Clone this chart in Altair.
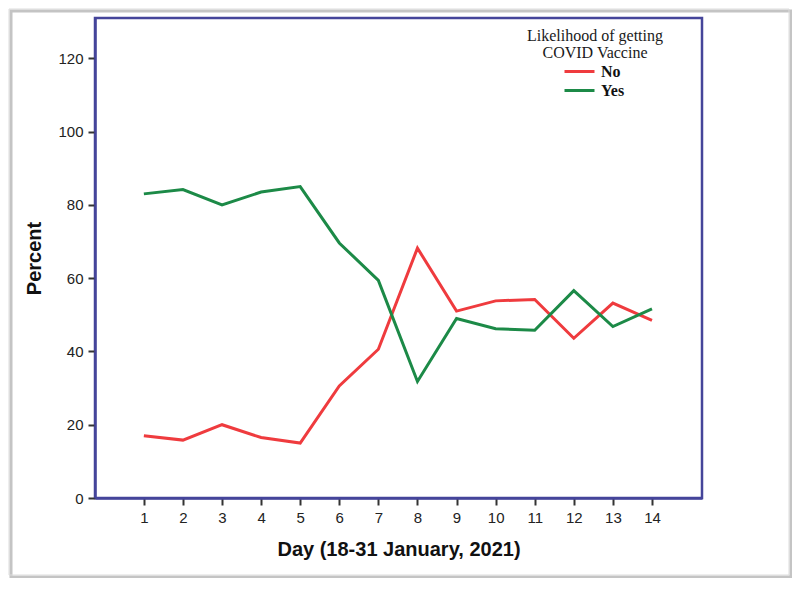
import altair as alt
import pandas as pd

days = list(range(1, 15))
no_vals = [17.0, 15.8, 20.0, 16.5, 15.0, 30.6, 40.6, 68.2, 51.0, 53.8, 54.2, 43.6, 53.2, 48.5]
yes_vals = [83.0, 84.2, 80.0, 83.5, 85.0, 69.6, 59.4, 31.8, 49.0, 46.2, 45.8, 56.6, 46.8, 51.6]
series = ["No", "Yes"]
colors = ["#ef3b3e", "#1c8a47"]
legend_title = ["Likelihood of getting", "COVID Vaccine"]
y_ticks = [0, 20, 40, 60, 80, 100, 120]

rows = []
for d, n, y in zip(days, no_vals, yes_vals):
    rows.append({"Day": d, "Percent": n, "Answer": "No"})
    rows.append({"Day": d, "Percent": y, "Answer": "Yes"})
df = pd.DataFrame(rows)
one = pd.DataFrame({"a": [0]})

NAVY = "#45459a"

shadow = alt.Chart(one).mark_rect(fill=None, stroke="#c4c4c4", strokeWidth=3).encode(
    x=alt.value(-84), x2=alt.value(696), y=alt.value(-7), y2=alt.value(559)
)
box = alt.Chart(one).mark_rect(fill=None, stroke="#dcdcdc", strokeWidth=1).encode(
    x=alt.value(-86), x2=alt.value(694), y=alt.value(-9), y2=alt.value(557)
)

lines = alt.Chart(df).mark_line(strokeWidth=3).encode(
    x=alt.X(
        "Day:Q",
        scale=alt.Scale(domain=[-0.25, 15.28], nice=False, zero=False),
        axis=alt.Axis(
            values=days,
            title="Day (18-31 January, 2021)",
            titlePadding=14,
            labelPadding=5,
            zindex=1,
        ),
    ),
    y=alt.Y(
        "Percent:Q",
        scale=alt.Scale(domain=[0, 131], nice=False),
        axis=alt.Axis(values=y_ticks, title="Percent", titlePadding=13,
                      labelPadding=5, zindex=1),
    ),
    color=alt.Color(
        "Answer:N",
        scale=alt.Scale(domain=series, range=colors),
        legend=alt.Legend(
            title=None,
            orient="none",
            legendX=475,
            legendY=44,
            symbolType="M-1.875,0H1.875",
            symbolSize=256,
            symbolStrokeWidth=3,
            labelFont="Liberation Serif",
            labelFontSize=16,
            labelFontWeight="bold",
            labelColor="#111",
            labelOffset=12,
            rowPadding=1,
            padding=0,
        ),
    ),
)

title_text = alt.Chart(one).mark_text(
    font="Liberation Serif", fontSize=16, color="#1a1a1a", align="center", baseline="middle",
    lineHeight=17,
).encode(
    x=alt.value(500), y=alt.value(18), text=alt.value(legend_title)
)

chart = alt.layer(shadow, box, lines, title_text).properties(
    width=607,
    height=480,
    padding={"left": 87, "top": 10, "right": 90, "bottom": 80},
    autosize=alt.AutoSizeParams(type="none"),
    background="white",
).configure_view(
    stroke=NAVY, strokeWidth=2.5
).configure_axis(
    domainColor=NAVY,
    domainWidth=2.5,
    tickColor="#333",
    tickWidth=2,
    tickSize=7,
    grid=False,
    labelFont="Liberation Sans",
    labelFontSize=15,
    labelColor="#222",
    titleFont="Liberation Sans",
    titleFontSize=20,
    titleFontWeight="bold",
    titleColor="#111",
)

chart.save("out.html", embed_options={"renderer": "svg", "actions": False})
